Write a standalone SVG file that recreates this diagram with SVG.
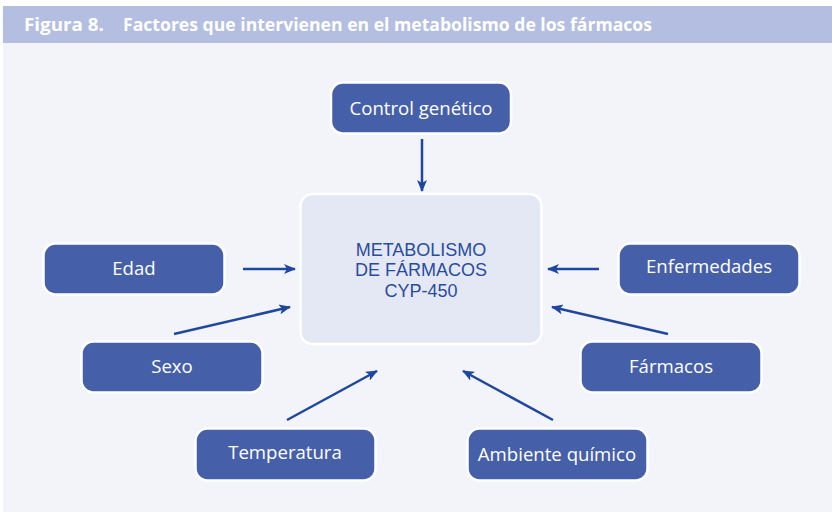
<svg xmlns="http://www.w3.org/2000/svg" width="832" height="514" viewBox="0 0 832 514">
<defs>
<style>
.node rect{fill:#465fa9;stroke:#ffffff;stroke-width:2.5}
.node text{fill:#ffffff;font-family:"Open Sans","Noto Sans","DejaVu Sans",sans-serif;font-size:18.6px;text-anchor:middle}
.center rect{fill:#e4e8f4;stroke:#ffffff;stroke-width:2.5}
.center text{fill:#2a4c9f;font-family:"Liberation Sans",Arial,sans-serif;font-size:18px;text-anchor:middle}
.conn line{stroke:#1f47a0;stroke-width:2.5;marker-end:url(#ah)}
.title{fill:#ffffff;font-family:"Open Sans","Noto Sans",sans-serif;font-size:17px;font-weight:bold}
</style>
<marker id="ah" viewBox="0 0 12 10" refX="11" refY="5" markerWidth="12" markerHeight="10" markerUnits="userSpaceOnUse" orient="auto">
<path d="M0,0 L12,5 L0,10 L3,5 Z" fill="#1f47a0"/>
</marker>
</defs>
<rect x="0" y="0" width="832" height="514" fill="#ffffff"/>
<rect x="3" y="43" width="829" height="469" fill="#f3f4f9"/>
<rect x="3" y="6" width="829" height="37" fill="#b4bee0"/>
<text class="title" x="24" y="31" textLength="80" lengthAdjust="spacingAndGlyphs">Figura 8.</text>
<text class="title" x="123" y="31" textLength="529" lengthAdjust="spacingAndGlyphs">Factores que intervienen en el metabolismo de los fármacos</text>

<g id="center" class="center">
<rect x="300.5" y="194" width="241" height="150" rx="12"/>
<text x="421" y="255.5">METABOLISMO</text>
<text x="421" y="276.3">DE FÁRMACOS</text>
<text x="421" y="297.1">CYP-450</text>
</g>
<g id="control" class="node">
<rect x="331" y="82.5" width="180" height="51" rx="12"/>
<text x="421" y="115">Control genético</text>
</g>
<g id="edad" class="node">
<rect x="43.5" y="243.5" width="181" height="51" rx="12"/>
<text x="134" y="275">Edad</text>
</g>
<g id="sexo" class="node">
<rect x="81.5" y="341.5" width="181" height="51" rx="12"/>
<text x="172" y="373">Sexo</text>
</g>
<g id="enfermedades" class="node">
<rect x="618.5" y="243.5" width="181" height="51" rx="12"/>
<text x="709" y="273">Enfermedades</text>
</g>
<g id="farmacos" class="node">
<rect x="580.5" y="341.5" width="181" height="51" rx="12"/>
<text x="671" y="373">Fármacos</text>
</g>
<g id="temperatura" class="node">
<rect x="195.5" y="428.5" width="180" height="52" rx="12"/>
<text x="285" y="459">Temperatura</text>
</g>
<g id="ambiente" class="node">
<rect x="467.5" y="428.5" width="180" height="52" rx="12"/>
<text x="557" y="461">Ambiente químico</text>
</g>

<g id="connectors" class="conn">
<line x1="422" y1="139" x2="422" y2="191"/>
<line x1="243" y1="269" x2="295" y2="269"/>
<line x1="174" y1="334" x2="290" y2="307"/>
<line x1="599" y1="269" x2="548" y2="269"/>
<line x1="668" y1="334" x2="552" y2="307"/>
<line x1="287" y1="420" x2="377" y2="371"/>
<line x1="553" y1="420" x2="463" y2="371"/>
</g>
</svg>
